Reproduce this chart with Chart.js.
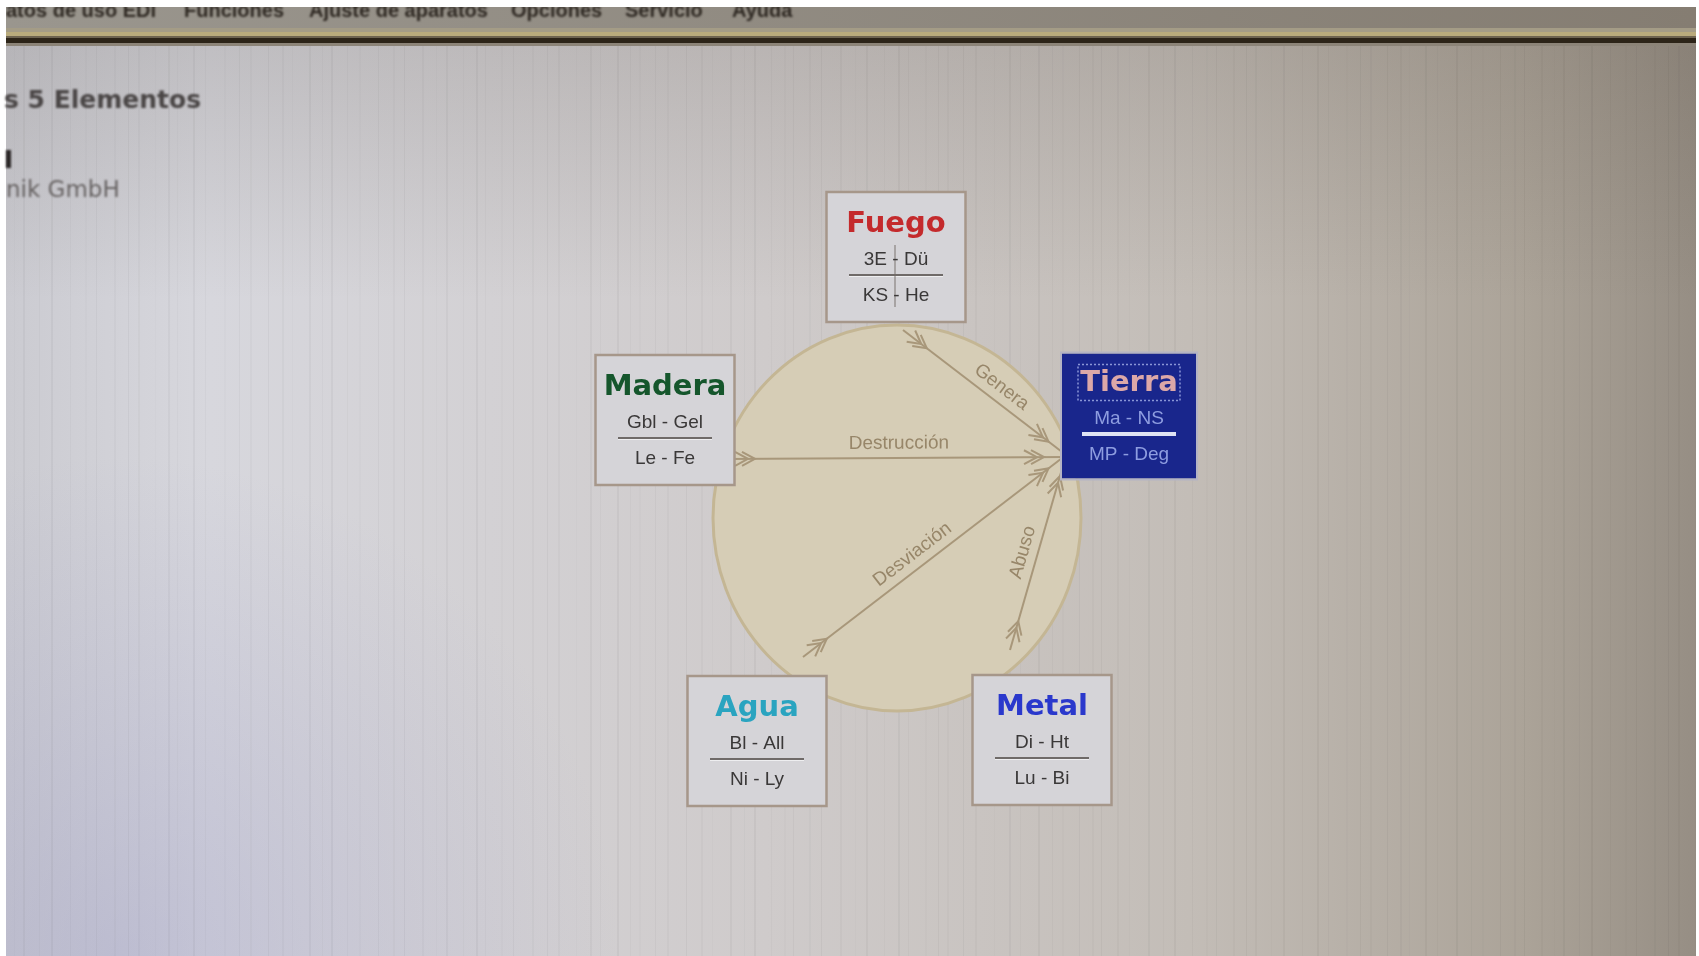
<!DOCTYPE html>
<html><head><meta charset="utf-8">
<script src="https://cdn.jsdelivr.net/npm/chart.js@4"></script>
<style>html,body{margin:0;padding:0;background:#fff;overflow:hidden}canvas{display:block}</style>
</head><body>
<canvas id="c" width="1699" height="956"></canvas>
<script>
// ---- data ----
const elements = ['Fuego', 'Tierra', 'Metal', 'Agua', 'Madera'];
const nodeX = [896, 1129, 1042, 757, 665];
const nodeY = [257, 416, 740, 741, 420];
const organsTop = ['3E - Dü', 'Ma - NS', 'Di - Ht', 'Bl - All', 'Gbl - Gel'];
const organsBottom = ['KS - He', 'MP - Deg', 'Lu - Bi', 'Ni - Ly', 'Le - Fe'];
const relations = ['Genera', 'Destrucción', 'Desviación', 'Abuso'];
const relFromX = [903, 725, 803, 1010];
const relFromY = [330, 459, 657, 650];
const relToX = [1066, 1066, 1066, 1066];
const relToY = [455, 457, 455, 455];
const circleCenterX = [897];
const circleCenterY = [518];
const circleRadiusX = [184];
const circleRadiusY = [193];
const menuItems = ['atos de uso EDI', 'Funciones', 'Ajuste de aparatos', 'Opciones', 'Servicio', 'Ayuda'];
const menuX = [6, 184, 309, 511, 625, 732];
const pageTitle = 's 5 Elementos';
const pageCompany = 'nik GmbH';

// ---- styles ----
const titleColors = ['#c42a2c', '#dca8a8', '#2a38cc', '#2aa4c0', '#15562c'];
const labelT = [0.55, 0.51, 0.45, 0.48];
const active = 'Tierra';

const arrowColor = '#a8977a';

function arrowHead(ctx, x, y, ux, uy) {
  const nx = -uy, ny = ux;
  ctx.beginPath();
  for (const off of [0, 7]) {
    const tx = x - ux * off, ty = y - uy * off;
    ctx.moveTo(tx - ux * 13 + nx * 7, ty - uy * 13 + ny * 7);
    ctx.lineTo(tx, ty);
    ctx.lineTo(tx - ux * 13 - nx * 7, ty - uy * 13 - ny * 7);
  }
  ctx.stroke();
}

const diagram = {
  id: 'diagram',
  beforeDraw(chart) {
    const ctx = chart.ctx, W = chart.width, H = chart.height;
    ctx.save();
    ctx.fillStyle = '#ffffff';
    ctx.fillRect(0, 0, W, H);
    const L = 6, T = 7, R = 1696, B = 956;
    let g = ctx.createLinearGradient(L, 0, R, 0);
    g.addColorStop(0, '#cbcbd1');
    g.addColorStop(0.12, '#d7d7dd');
    g.addColorStop(0.45, '#cfcbcb');
    g.addColorStop(0.7, '#c3bdb7');
    g.addColorStop(0.9, '#aba398');
    g.addColorStop(1, '#968e84');
    ctx.fillStyle = g;
    ctx.fillRect(L, T, R - L, B - T);
    g = ctx.createLinearGradient(0, 40, 0, 300);
    g.addColorStop(0, 'rgba(70,60,50,0.16)');
    g.addColorStop(1, 'rgba(70,60,50,0)');
    ctx.fillStyle = g;
    ctx.fillRect(L, 40, R - L, 260);
    g = ctx.createRadialGradient(120, 956, 10, 120, 956, 500);
    g.addColorStop(0, 'rgba(150,150,195,0.35)');
    g.addColorStop(1, 'rgba(150,150,195,0)');
    ctx.fillStyle = g;
    ctx.fillRect(L, 450, 700, 506);
    // faint vertical moire streaks
    ctx.fillStyle = '#000';
    for (let x = 14, k = 0; x < R; x += 9 + (k * 7) % 11, k++) {
      ctx.globalAlpha = 0.012 + ((k * 13) % 5) * 0.006;
      ctx.fillRect(x, T, 1 + (k % 2), B - T);
    }
    ctx.globalAlpha = 1;
    // menu band
    g = ctx.createLinearGradient(L, 0, R, 0);
    g.addColorStop(0, '#9a968e');
    g.addColorStop(1, '#857d72');
    ctx.fillStyle = g;
    ctx.fillRect(L, T, R - L, 22);
    ctx.fillStyle = '#a49c86';
    ctx.fillRect(L, 28, R - L, 5);
    ctx.fillStyle = '#b9ab7c';
    ctx.fillRect(L, 32, R - L, 4);
    ctx.fillStyle = '#6e6450';
    ctx.fillRect(L, 36, R - L, 2);
    ctx.fillStyle = '#2c2418';
    ctx.fillRect(L, 38, R - L, 5);
    ctx.fillStyle = '#8c8478';
    ctx.fillRect(L, 43, R - L, 3);
    ctx.beginPath();
    ctx.rect(L, T, R - L, 30);
    ctx.clip();
    ctx.filter = 'blur(1.2px)';
    ctx.fillStyle = '#2e2822';
    ctx.font = 'bold 20px "Liberation Sans", Arial, sans-serif';
    ctx.textBaseline = 'alphabetic';
    menuItems.forEach((t, i) => ctx.fillText(t, menuX[i], 17));
    ctx.restore();

    // page texts
    ctx.save();
    ctx.filter = 'blur(0.8px)';
    ctx.fillStyle = '#4a4646';
    ctx.font = 'bold 25px "DejaVu Sans", sans-serif';
    ctx.textBaseline = 'middle';
    ctx.fillText(pageTitle, 4, 101);
    ctx.fillStyle = '#2a2626';
    ctx.fillRect(6, 150, 5, 18);
    ctx.fillStyle = '#676363';
    ctx.font = '23px "DejaVu Sans", sans-serif';
    ctx.fillText(pageCompany, 6, 191);
    ctx.restore();
  },
  beforeDatasetsDraw(chart) {
    const ctx = chart.ctx, xs = chart.scales.x, ys = chart.scales.y;
    const cx = xs.getPixelForValue(circleCenterX[0]);
    const cy = ys.getPixelForValue(circleCenterY[0]);
    const rx = xs.getPixelForValue(circleCenterX[0] + circleRadiusX[0]) - cx;
    const ry = ys.getPixelForValue(circleCenterY[0] + circleRadiusY[0]) - cy;
    ctx.save();
    ctx.beginPath();
    ctx.ellipse(cx, cy, Math.abs(rx), Math.abs(ry), 0, 0, Math.PI * 2);
    ctx.fillStyle = '#d6cdb6';
    ctx.fill();
    ctx.lineWidth = 3;
    ctx.strokeStyle = '#c4b694';
    ctx.stroke();
    ctx.restore();
  },
  afterDatasetsDraw(chart) {
    const ctx = chart.ctx, xs = chart.scales.x, ys = chart.scales.y;
    ctx.save();
    // arrowheads and relation labels
    relations.forEach((name, i) => {
      const x1 = xs.getPixelForValue(relFromX[i]), y1 = ys.getPixelForValue(relFromY[i]);
      const x2 = xs.getPixelForValue(relToX[i]), y2 = ys.getPixelForValue(relToY[i]);
      const len = Math.hypot(x2 - x1, y2 - y1);
      const ux = (x2 - x1) / len, uy = (y2 - y1) / len;
      ctx.strokeStyle = arrowColor;
      ctx.lineWidth = 2;
      arrowHead(ctx, x1 + ux * 30, y1 + uy * 30, ux, uy);
      arrowHead(ctx, x2 - ux * 22, y2 - uy * 22, ux, uy);
      let ang = Math.atan2(y2 - y1, x2 - x1);
      if (ang > Math.PI / 2) ang -= Math.PI;
      if (ang < -Math.PI / 2) ang += Math.PI;
      const t = labelT[i];
      ctx.save();
      ctx.translate(x1 + (x2 - x1) * t, y1 + (y2 - y1) * t);
      ctx.rotate(ang);
      ctx.filter = 'blur(0.6px)';
      ctx.fillStyle = '#978669';
      ctx.font = '19px "Liberation Sans", Arial, sans-serif';
      ctx.textAlign = 'center';
      ctx.textBaseline = 'bottom';
      ctx.fillText(name, 0, -5);
      ctx.restore();
    });
    // element boxes
    const meta = chart.getDatasetMeta(chart.data.datasets.length - 1);
    elements.forEach((name, i) => {
      const pt = meta.data[i];
      const x = pt.x, y = pt.y;
      const isActive = name === active;
      const w = isActive ? 134 : 139, h = isActive ? 125 : 130;
      const l = x - w / 2, tp = y - h / 2;
      if (isActive) {
        ctx.fillStyle = '#19268c';
        ctx.fillRect(l, tp, w, h);
        ctx.strokeStyle = '#b4b4c4';
        ctx.lineWidth = 2;
        ctx.strokeRect(l - 1, tp - 1, w + 2, h + 2);
        ctx.setLineDash([2, 2]);
        ctx.strokeStyle = '#8a96d6';
        ctx.lineWidth = 1.5;
        ctx.strokeRect(x - 51, tp + 11, 102, 36);
        ctx.setLineDash([]);
        ctx.fillStyle = '#dfe3f4';
        ctx.fillRect(x - 47, y + 16, 94, 4);
      } else {
        ctx.fillStyle = '#d5d4d8';
        ctx.fillRect(l, tp, w, h);
        ctx.strokeStyle = '#a6978a';
        ctx.lineWidth = 2.5;
        ctx.strokeRect(l, tp, w, h);
        ctx.fillStyle = '#6f6a68';
        ctx.fillRect(x - 47, y + 17, 94, 2);
        ctx.fillStyle = '#eeeef0';
        ctx.fillRect(x - 47, y + 19, 94, 1);
        if (name === 'Fuego') {
          ctx.fillStyle = 'rgba(110,105,100,0.45)';
          ctx.fillRect(x - 2, y - 12, 2, 62);
        }
      }
      ctx.save();
      ctx.filter = 'blur(0.7px)';
      ctx.textAlign = 'center';
      ctx.textBaseline = 'middle';
      ctx.fillStyle = titleColors[i];
      ctx.font = 'bold 29px "DejaVu Sans", sans-serif';
      ctx.fillText(name, x, y - 33);
      ctx.fillStyle = isActive ? '#8e9de0' : '#3a3838';
      ctx.font = '19px "Liberation Sans", Arial, sans-serif';
      ctx.fillText(organsTop[i], x, y + 3);
      ctx.fillText(organsBottom[i], x, y + 39);
      ctx.restore();
    });
    ctx.restore();
  }
};

const relationDatasets = relations.map((name, i) => ({
  label: name,
  data: [{ x: relFromX[i], y: relFromY[i] }, { x: relToX[i], y: relToY[i] }],
  showLine: true,
  borderColor: arrowColor,
  borderWidth: 2,
  pointRadius: 0,
  fill: false
}));

const nodeDataset = {
  label: 'Elementos',
  data: elements.map((e, i) => ({ x: nodeX[i], y: nodeY[i] })),
  pointRadius: 0,
  showLine: false
};

new Chart(document.getElementById('c'), {
  type: 'scatter',
  data: { datasets: [...relationDatasets, nodeDataset] },
  options: {
    responsive: false,
    animation: false,
    devicePixelRatio: 1,
    layout: { padding: 0 },
    events: [],
    scales: {
      x: { type: 'linear', min: 0, max: 1699, display: false },
      y: { type: 'linear', min: 0, max: 956, reverse: true, display: false }
    },
    plugins: { legend: { display: false }, tooltip: { enabled: false } }
  },
  plugins: [diagram]
});
</script>
</body></html>
